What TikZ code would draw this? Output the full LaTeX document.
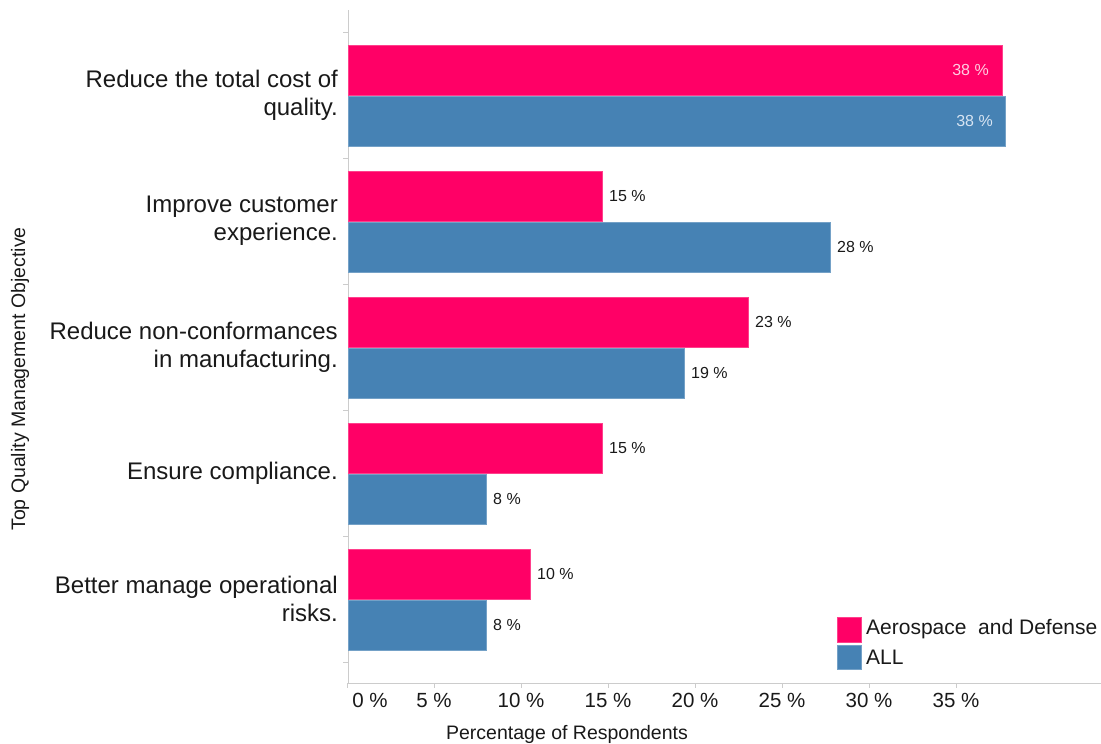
\documentclass[tikz,border=0pt]{standalone}
\usepackage{fontspec}
\setmainfont{Liberation Sans}
\usetikzlibrary{positioning}
\definecolor{aerocol}{RGB}{255,0,102}
\definecolor{allcol}{RGB}{70,130,180}
\definecolor{axiscol}{RGB}{204,204,204}
\definecolor{txtcol}{RGB}{25,25,25}
\definecolor{aerotxt}{RGB}{255,205,225}
\definecolor{alltxt}{RGB}{215,228,242}
\tikzset{
    aero/.style={fill=aerocol, draw=aerocol!75!white, line width=0.6pt},
    all/.style={fill=allcol, draw=allcol!75!white, line width=0.6pt},
    axis/.style={draw=axiscol, line width=1pt},
    value/.style={anchor=west, font=\fontsize{16}{19}\selectfont},
    inval/.style={anchor=east, font=\fontsize{16}{19}\selectfont},
    tick/.style={font=\fontsize{20.5}{24}\selectfont},
    category/.style={anchor=east, align=right, font=\fontsize{24}{28}\selectfont},
    legendtext/.style={anchor=west, font=\fontsize{21}{25}\selectfont},
    title/.style={font=\fontsize{19.5}{23}\selectfont}
}

\begin{document}
\begin{tikzpicture}
  [
    x                       = 1pt,
    y                       = -1pt,
    every node/.style       = {inner sep=0pt, text=txtcol},
  ]
  \useasboundingbox (0,0) rectangle (1101,744);

  % axes and ticks
  \draw[axis] (348,10) -- (348,683) -- (1101,683);
  \foreach \k in {0,...,5}
    \draw[axis] (343,32+126*\k) -- (348,32+126*\k);
  \foreach \p in {0,5,...,35}
    \draw[axis] (347+17.4*\p,683) -- (347+17.4*\p,688);
  \node[tick] (t0) at (370,700) {0 \%};
  \foreach \p in {5,10,...,35}
    \node[tick] (t\p) at (347+17.4*\p,700) {\p\ \%};

  % bars
  \foreach \pa/\pb [count=\i from 0] in {1002/1005, 602/830, 748/684, 602/486, 530/486} {
    \filldraw[aero] (348,45+126*\i) rectangle (\pa,95+126*\i);
    \filldraw[all] (348,96+126*\i) rectangle (\pb,146+126*\i);
  }

  % value labels
  \node[inval, text=aerotxt] (a0) at (989,70) {38 \%};
  \node[inval, text=alltxt] (b0) at (993,121) {38 \%};
  \foreach \pa/\la/\pb/\lb [count=\i from 1] in {602/15/830/28, 748/23/684/19, 602/15/486/8, 530/10/486/8} {
    \node[value] (a\i) at (\pa+7,70+126*\i) {\la\ \%};
    \node[value] (b\i) at (\pb+7,121+126*\i) {\lb\ \%};
  }

  % categories
  \node[category] (c0) at (338,95) {Reduce the total cost of\\quality.};
  \node[category] (c1) at (338,221) {Improve customer\\experience.};
  \node[category] (c2) at (338,347) {Reduce non-conformances\\in manufacturing.};
  \node[category] (c3) at (338,473) {Ensure compliance.};
  \node[category] (c4) at (338,599) {Better manage operational\\risks.};

  % titles
  \node[title] (xtitle) at (567,734) {Percentage of Respondents};
  \node[title, rotate=90] (ytitle) at (20,379) {Top Quality Management Objective};

  % legend
  \filldraw[aero] (837,617) rectangle (861,642);
  \filldraw[all] (837,645) rectangle (861,669);
  \node[legendtext] (laero) at (866,629.5) {Aerospace~~and Defense};
  \node[legendtext] (lall) at (866,657) {ALL};
\end{tikzpicture}
\end{document}
